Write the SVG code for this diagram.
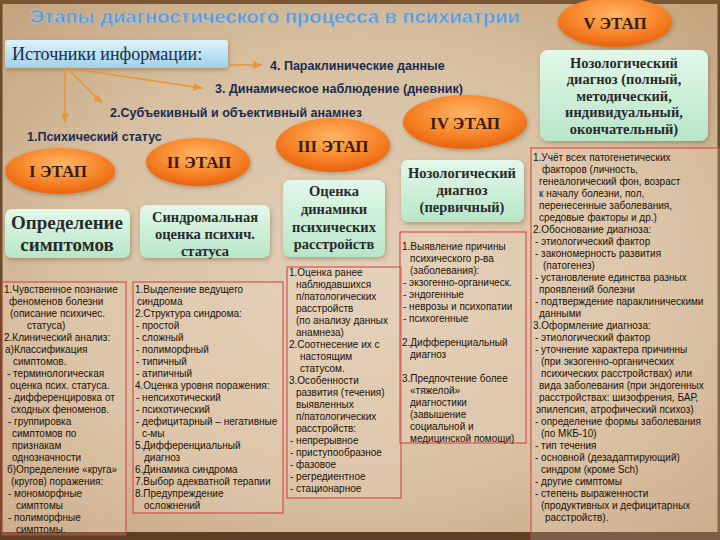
<svg xmlns="http://www.w3.org/2000/svg" width="720" height="540" viewBox="0 0 720 540">
<defs>
<radialGradient id="bg" cx="50%" cy="50%" r="72%">
<stop offset="0" stop-color="#e2d0b8"/>
<stop offset="0.55" stop-color="#d8c1a2"/>
<stop offset="1" stop-color="#c2a07a"/>
</radialGradient>
<radialGradient id="og" cx="50%" cy="35%" r="65%">
<stop offset="0" stop-color="#ffb567"/>
<stop offset="0.6" stop-color="#f7862a"/>
<stop offset="1" stop-color="#e9620c"/>
</radialGradient>
<linearGradient id="gg" x1="0" y1="0" x2="0" y2="1">
<stop offset="0" stop-color="#e2f8ea"/>
<stop offset="1" stop-color="#b8e6c8"/>
</linearGradient>
<linearGradient id="bl" x1="0" y1="0" x2="0" y2="1">
<stop offset="0" stop-color="#def2fa"/>
<stop offset="1" stop-color="#9fd2ea"/>
</linearGradient>
<marker id="ah" viewBox="0 0 10 10" refX="9" refY="5" markerWidth="6" markerHeight="6" orient="auto">
<path d="M0,1 L10,5 L0,9 z" fill="#e8953a"/>
</marker>
<filter id="sh" x="-20%" y="-20%" width="140%" height="150%">
<feDropShadow dx="1" dy="2" stdDeviation="2" flood-color="#5a3a1a" flood-opacity="0.35"/>
</filter>
</defs>
<style>
.title{font-family:"Liberation Sans",Arial,sans-serif;font-weight:bold;font-size:19px;fill:#5e93c8;stroke:#a9c6e2;stroke-width:0.6}
.src{font-family:"Liberation Serif","Times New Roman",serif;font-size:18px;fill:#1e2a48}
.lab{font-family:"Liberation Sans",Arial,sans-serif;font-weight:bold;font-size:12.5px;fill:#1c2c50}
.stg{font-family:"Liberation Serif","Times New Roman",serif;font-weight:bold;font-size:17px;fill:#3a1c0c;text-anchor:middle}
.gt{font-family:"Liberation Serif","Times New Roman",serif;font-size:14.5px;fill:#2a2a2a;text-anchor:middle;font-weight:bold}
.gt2{font-family:"Liberation Serif","Times New Roman",serif;font-size:19px;fill:#2a2a2a;text-anchor:middle;font-weight:bold}
.col{font-family:"Liberation Sans",Arial,sans-serif;font-size:10px;fill:#1a1208}
.rb{fill:#f4dccb;fill-opacity:0.2;stroke:#d43a3a;stroke-width:1}
.arr{stroke:#e8953a;stroke-width:1.6;fill:none;marker-end:url(#ah)}
</style>
<rect x="0" y="0" width="720" height="540" fill="url(#bg)"/>
<rect x="0" y="0" width="720" height="540" fill="none" stroke="#6a4a2c" stroke-width="5"/>
<rect x="0" y="532" width="720" height="8" fill="#5c3e22"/>
<rect x="0" y="0" width="720" height="4" fill="#7a5634"/>

<text class="title" x="30" y="23" textLength="490" lengthAdjust="spacingAndGlyphs">Этапы диагностического процесса в психиатрии</text>

<g id="sources">
<rect x="5" y="40" width="223" height="28" rx="3" fill="url(#bl)" filter="url(#sh)"/>
<text class="src" x="12" y="60">Источники информации:</text>
</g>

<g id="connectors">
<line class="arr" x1="228" y1="65" x2="262" y2="65"/>
<line class="arr" x1="67" y1="68" x2="202" y2="88"/>
<line class="arr" x1="67" y1="68" x2="102" y2="103"/>
<line class="arr" x1="65" y1="68" x2="65" y2="122"/>
</g>

<g id="labels">
<text class="lab" x="270" y="70">4. Параклинические данные</text>
<text class="lab" x="215" y="93">3. Динамическое наблюдение (дневник)</text>
<text class="lab" x="110" y="117">2.Субъекивный и объективный анамнез</text>
<text class="lab" x="27" y="141">1.Психический статус</text>
</g>

<g id="stage1">
<ellipse cx="60" cy="171" rx="55" ry="23" fill="url(#og)" filter="url(#sh)"/>
<text class="stg" x="58" y="177">I ЭТАП</text>
</g>
<g id="stage2">
<ellipse cx="198" cy="162" rx="52" ry="24" fill="url(#og)" filter="url(#sh)"/>
<text class="stg" x="199" y="168">II ЭТАП</text>
</g>
<g id="stage3">
<ellipse cx="333" cy="145" rx="57" ry="27" fill="url(#og)" filter="url(#sh)"/>
<text class="stg" x="333" y="152">III ЭТАП</text>
</g>
<g id="stage4">
<ellipse cx="465" cy="122" rx="62" ry="27" fill="url(#og)" filter="url(#sh)"/>
<text class="stg" x="465" y="129">IV ЭТАП</text>
</g>
<g id="stage5">
<ellipse cx="615" cy="22" rx="57" ry="25" fill="url(#og)" filter="url(#sh)"/>
<text class="stg" x="615" y="29">V ЭТАП</text>
</g>

<g id="box1">
<rect x="5" y="209" width="125" height="49" rx="7" fill="url(#gg)" filter="url(#sh)"/>
<text class="gt2" x="67" y="229">Определение</text>
<text class="gt2" x="67" y="251">симптомов</text>
</g>
<g id="box2">
<rect x="140" y="205" width="130" height="53" rx="7" fill="url(#gg)" filter="url(#sh)"/>
<text class="gt" x="205" y="222">Синдромальная</text>
<text class="gt" x="205" y="239">оценка психич.</text>
<text class="gt" x="205" y="256">статуса</text>
</g>
<g id="box3">
<rect x="283" y="180" width="102" height="77" rx="7" fill="url(#gg)" filter="url(#sh)"/>
<text class="gt" x="334" y="196">Оценка</text>
<text class="gt" x="334" y="214">динамики</text>
<text class="gt" x="334" y="232">психических</text>
<text class="gt" x="334" y="249">расстройств</text>
</g>
<g id="box4">
<rect x="401" y="160" width="123" height="62" rx="7" fill="url(#gg)" filter="url(#sh)"/>
<text class="gt" x="462" y="178">Нозологический</text>
<text class="gt" x="462" y="195">диагноз</text>
<text class="gt" x="462" y="212">(первичный)</text>
</g>
<g id="box5">
<rect x="540" y="50" width="168" height="91" rx="8" fill="url(#gg)" filter="url(#sh)"/>
<text class="gt" x="624" y="68">Нозологический</text>
<text class="gt" x="624" y="84">диагноз (полный,</text>
<text class="gt" x="624" y="101">методический,</text>
<text class="gt" x="624" y="117">индивидуальный,</text>
<text class="gt" x="624" y="134">окончательный)</text>
</g>

<g id="list1">
<rect class="rb" x="2" y="282" width="124" height="253"/>
<text class="col" x="4" y="293">1.Чувственное познание</text>
<text class="col" x="9" y="305">феноменов болезни</text>
<text class="col" x="10" y="317">(описание психичес.</text>
<text class="col" x="27" y="329">статуса)</text>
<text class="col" x="4" y="341">2.Клинический анализ:</text>
<text class="col" x="5" y="353">а)Классификация</text>
<text class="col" x="13" y="365">симптомов.</text>
<text class="col" x="7" y="377">- терминологическая</text>
<text class="col" x="10" y="389">оценка псих. статуса.</text>
<text class="col" x="8" y="401">- дифференцировка от</text>
<text class="col" x="11" y="413">сходных феноменов.</text>
<text class="col" x="8" y="425">- группировка</text>
<text class="col" x="12" y="437">симптомов по</text>
<text class="col" x="12" y="449">признакам</text>
<text class="col" x="12" y="461">однозначности</text>
<text class="col" x="7" y="473">б)Определение «круга»</text>
<text class="col" x="11" y="485">(кругов) поражения:</text>
<text class="col" x="8" y="497">- мономорфные</text>
<text class="col" x="16" y="509">симптомы</text>
<text class="col" x="8" y="521">- полиморфные</text>
<text class="col" x="16" y="533">симптомы.</text>
</g>

<g id="list2">
<rect class="rb" x="133" y="282" width="150" height="231"/>
<text class="col" x="135" y="293">1.Выделение ведущего</text>
<text class="col" x="137" y="305">синдрома</text>
<text class="col" x="135" y="317">2.Структура синдрома:</text>
<text class="col" x="136" y="329">- простой</text>
<text class="col" x="136" y="341">- сложный</text>
<text class="col" x="136" y="353">- полиморфный</text>
<text class="col" x="136" y="365">- типичный</text>
<text class="col" x="136" y="377">- атипичный</text>
<text class="col" x="135" y="389">4.Оценка уровня поражения:</text>
<text class="col" x="136" y="401">- непсихотический</text>
<text class="col" x="136" y="413">- психотический</text>
<text class="col" x="136" y="425">- дефицитарный – негативные</text>
<text class="col" x="142" y="437">с-мы</text>
<text class="col" x="135" y="449">5.Дифференциальный</text>
<text class="col" x="144" y="461">диагноз</text>
<text class="col" x="135" y="473">6.Динамика синдрома</text>
<text class="col" x="135" y="485">7.Выбор адекватной терапии</text>
<text class="col" x="135" y="497">8.Предупреждение</text>
<text class="col" x="144" y="509">осложнений</text>
</g>

<g id="list3">
<rect class="rb" x="287" y="267" width="114" height="231"/>
<text class="col" x="289" y="276">1.Оценка ранее</text>
<text class="col" x="296" y="288">наблюдавшихся</text>
<text class="col" x="296" y="300">п/патологических</text>
<text class="col" x="296" y="312">расстройств</text>
<text class="col" x="296" y="324">(по анализу данных</text>
<text class="col" x="296" y="336">анамнеза)</text>
<text class="col" x="289" y="348">2.Соотнесение их с</text>
<text class="col" x="300" y="360">настоящим</text>
<text class="col" x="300" y="372">статусом.</text>
<text class="col" x="289" y="384">3.Особенности</text>
<text class="col" x="296" y="396">развития (течения)</text>
<text class="col" x="296" y="408">выявленных</text>
<text class="col" x="296" y="420">п/патологических</text>
<text class="col" x="296" y="432">расстройств:</text>
<text class="col" x="290" y="444">- непрерывное</text>
<text class="col" x="290" y="456">- приступообразное</text>
<text class="col" x="290" y="468">- фазовое</text>
<text class="col" x="290" y="480">- регредиентное</text>
<text class="col" x="290" y="492">- стационарное</text>
</g>

<g id="list4">
<rect class="rb" x="400" y="232" width="126" height="211"/>
<text class="col" x="402" y="250">1.Выявление причины</text>
<text class="col" x="410" y="262">психического р-ва</text>
<text class="col" x="410" y="274">(заболевания):</text>
<text class="col" x="403" y="286">- экзогенно-органическ.</text>
<text class="col" x="403" y="298">- эндогенные</text>
<text class="col" x="403" y="310">- неврозы и психопатии</text>
<text class="col" x="403" y="322">- психогенные</text>
<text class="col" x="402" y="346">2.Дифференциальный</text>
<text class="col" x="410" y="358">диагноз</text>
<text class="col" x="402" y="382">3.Предпочтение более</text>
<text class="col" x="410" y="394">«тяжелой»</text>
<text class="col" x="410" y="406">диагностики</text>
<text class="col" x="410" y="418">(завышение</text>
<text class="col" x="410" y="430">социальной и</text>
<text class="col" x="410" y="442">медицинской помощи)</text>
</g>

<g id="list5">
<rect class="rb" x="531" y="148" width="192" height="395"/>
<text class="col" x="533" y="161">1.Учёт всех патогенетических</text>
<text class="col" x="542" y="173">факторов (личность,</text>
<text class="col" x="539" y="185">генеалогический фон, возраст</text>
<text class="col" x="539" y="197">к началу болезни, пол,</text>
<text class="col" x="539" y="209">перенесенные заболевания,</text>
<text class="col" x="539" y="221">средовые факторы и др.)</text>
<text class="col" x="533" y="233">2.Обоснование диагноза:</text>
<text class="col" x="535" y="245">- этиологический фактор</text>
<text class="col" x="535" y="257">- закономерность развития</text>
<text class="col" x="543" y="269">(патогенез)</text>
<text class="col" x="535" y="281">- установление единства разных</text>
<text class="col" x="539" y="293">проявлений болезни</text>
<text class="col" x="535" y="305">- подтверждение параклиническими</text>
<text class="col" x="539" y="317">данными</text>
<text class="col" x="533" y="329">3.Оформление диагноза:</text>
<text class="col" x="535" y="341">- этиологический фактор</text>
<text class="col" x="535" y="353">- уточнение характера причинны</text>
<text class="col" x="541" y="365">(при экзогенно-органических</text>
<text class="col" x="541" y="377">психических расстройствах) или</text>
<text class="col" x="539" y="389">вида заболевания (при эндогенных</text>
<text class="col" x="539" y="401">расстройствах: шизофрения, БАР,</text>
<text class="col" x="536" y="413">эпилепсия, атрофический психоз)</text>
<text class="col" x="535" y="425">- определение формы заболевания</text>
<text class="col" x="541" y="437">(по МКБ-10)</text>
<text class="col" x="535" y="449">- тип течения</text>
<text class="col" x="535" y="461">- основной (дезадаптирующий)</text>
<text class="col" x="541" y="473">синдром (кроме Sch)</text>
<text class="col" x="535" y="485">- другие симптомы</text>
<text class="col" x="535" y="497">- степень выраженности</text>
<text class="col" x="541" y="509">(продуктивных и дефицитарных</text>
<text class="col" x="545" y="521">расстройств).</text>
</g>
</svg>
